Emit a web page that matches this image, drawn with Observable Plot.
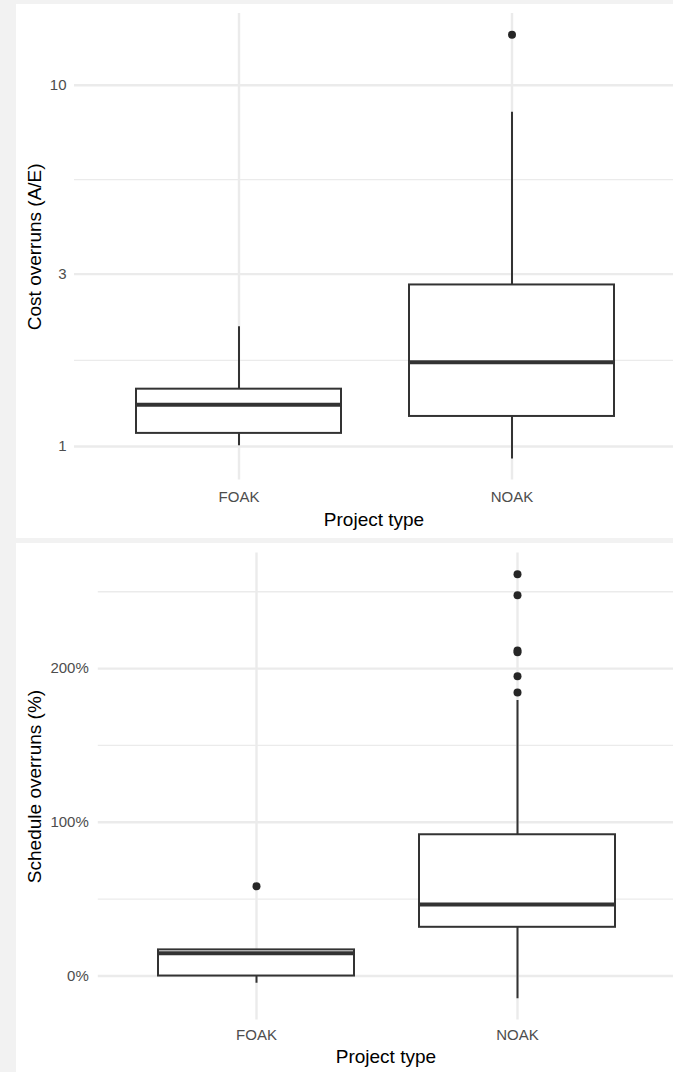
<!DOCTYPE html>
<html>
<head>
<meta charset="utf-8">
<script src="https://cdn.jsdelivr.net/npm/d3@7"></script>
<script src="https://cdn.jsdelivr.net/npm/@observablehq/plot@0.6"></script>
<style>
  html, body { margin: 0; padding: 0; background: #f2f2f2; }
  #page { position: relative; width: 673px; height: 1072px; background: #f2f2f2; overflow: hidden; }
  .panel { position: absolute; left: 16px; width: 657px; background: #ffffff; overflow: visible; }
  #cost { top: 4px; height: 534px; }
  #schedule { top: 543px; height: 529px; }
  .panel svg { display: block; overflow: visible; }
</style>
</head>
<body>
<div id="page">
  <div class="panel" id="cost"></div>
  <div class="panel" id="schedule"></div>
</div>
<script>
// Project categories
const projectTypes = ["FOAK", "NOAK"];

// Cost overruns, actual / estimated (log scale): box-plot statistics per project type
const costLow    = [1.004, 0.924];
const costQ1     = [1.087, 1.211];
const costMedian = [1.304, 1.712];
const costQ3     = [1.441, 2.80];
const costHigh   = [2.145, 8.42];
const costOutlierTypes = ["NOAK"];
const costOutliers     = [13.8];
const costTicks      = [1, 3, 10];
const costMinorTicks = [Math.sqrt(3), Math.sqrt(30)];

// Schedule overruns (%): box-plot statistics per project type
const schedLow    = [-4.7, -14.8];
const schedQ1     = [0, 31.7];
const schedMedian = [14.8, 46.5];
const schedQ3     = [17.0, 91.9];
const schedHigh   = [17.0, 179.2];
const schedOutlierTypes = ["FOAK", "NOAK", "NOAK", "NOAK", "NOAK", "NOAK", "NOAK"];
const schedOutliers     = [58.4, 261.4, 247.8, 211.8, 210.6, 195.1, 184.4];
const schedTicks      = [0, 100, 200];
const schedMinorTicks = [50, 150, 250];

const xTitle = "Project type";

const FONT = '"Liberation Sans", Arial, Helvetica, sans-serif';
const INK = "#333333";
const GRID = "#ebebeb";

function table(low, q1, median, q3, high) {
  return projectTypes.map((type, i) => ({type, low: low[i], q1: q1[i], median: median[i], q3: q3[i], high: high[i]}));
}
function outlierTable(types, values) {
  return types.map((type, i) => ({type, value: values[i]}));
}
// 5% expansion of the data range, in the transformed space
function expanded(values, fwd, inv) {
  const lo = fwd(d3.min(values)), hi = fwd(d3.max(values));
  const pad = 0.05 * (hi - lo);
  return [inv(lo - pad), inv(hi + pad)];
}

function boxPanel({stats, outliers, yType, yDomain, ticks, minorTicks, tickFormat, yTitle,
                   width, height, marginLeft, marginTop, marginBottom, xRange,
                   xTickPadding, yTickPadding, yTitleDx, xTitleDy}) {
  return Plot.plot({
    width, height, marginLeft, marginRight: 0, marginTop, marginBottom,
    style: {fontFamily: FONT, fontSize: "15px", background: "transparent", overflow: "visible"},
    x: {type: "band", domain: projectTypes, range: xRange, paddingInner: 0.25, paddingOuter: 0.225},
    y: {type: yType, domain: yDomain},
    marks: [
      Plot.gridY(minorTicks, {stroke: GRID, strokeOpacity: 1, strokeWidth: 1.3}),
      Plot.gridY(ticks, {stroke: GRID, strokeOpacity: 1, strokeWidth: 2.4}),
      Plot.gridX(projectTypes, {stroke: GRID, strokeOpacity: 1, strokeWidth: 2.4}),
      Plot.ruleX(stats, {x: "type", y1: "low", y2: "high", stroke: INK, strokeWidth: 2}),
      Plot.barY(stats, {x: "type", y1: "q1", y2: "q3", fill: "white", stroke: INK, strokeWidth: 2}),
      Plot.tickY(stats, {x: "type", y: "median", stroke: INK, strokeWidth: 4}),
      Plot.dot(outliers, {x: "type", y: "value", r: 4, fill: "#262626", stroke: "none"}),
      Plot.axisY(ticks, {tickSize: 0, tickPadding: yTickPadding, tickFormat, label: null, color: "#4d4d4d", fontSize: 15}),
      Plot.axisX({tickSize: 0, tickPadding: xTickPadding, label: null, color: "#4d4d4d", fontSize: 15}),
      Plot.text([yTitle], {frameAnchor: "left", rotate: -90, dx: yTitleDx, textAnchor: "middle", lineAnchor: "middle", fontSize: 19, fill: "#000"}),
      Plot.text([xTitle], {frameAnchor: "bottom", dy: xTitleDy, textAnchor: "middle", lineAnchor: "middle", fontSize: 19, fill: "#000"})
    ]
  });
}

const costStats = table(costLow, costQ1, costMedian, costQ3, costHigh);
const costPoints = outlierTable(costOutlierTypes, costOutliers);
const costDomain = expanded([...costLow, ...costHigh, ...costOutliers], Math.log10, v => Math.pow(10, v));

document.getElementById("cost").append(boxPanel({
  stats: costStats, outliers: costPoints, yType: "log", yDomain: costDomain,
  ticks: costTicks, minorTicks: costMinorTicks, tickFormat: d => String(d),
  yTitle: "Cost overruns (A/E)",
  width: 657, height: 534, marginLeft: 58, marginTop: 9, marginBottom: 58.4, xRange: [58, 659],
  xTickPadding: 11.5, yTickPadding: 8, yTitleDx: -39.7, xTitleDy: 39.4
}));

const schedStats = table(schedLow, schedQ1, schedMedian, schedQ3, schedHigh);
const schedPoints = outlierTable(schedOutlierTypes, schedOutliers);
const schedDomain = expanded([...schedLow, ...schedHigh, ...schedOutliers], v => v, v => v);

document.getElementById("schedule").append(boxPanel({
  stats: schedStats, outliers: schedPoints, yType: "linear", yDomain: schedDomain,
  ticks: schedTicks, minorTicks: schedMinorTicks, tickFormat: d => `${d}%`,
  yTitle: "Schedule overruns (%)",
  width: 657, height: 529, marginLeft: 81.8, marginTop: 9.5, marginBottom: 52.5, xRange: [81.8, 658],
  xTickPadding: 9.8, yTickPadding: 9.5, yTitleDx: -63.8, xTitleDy: 36.5
}));
</script>
</body>
</html>
